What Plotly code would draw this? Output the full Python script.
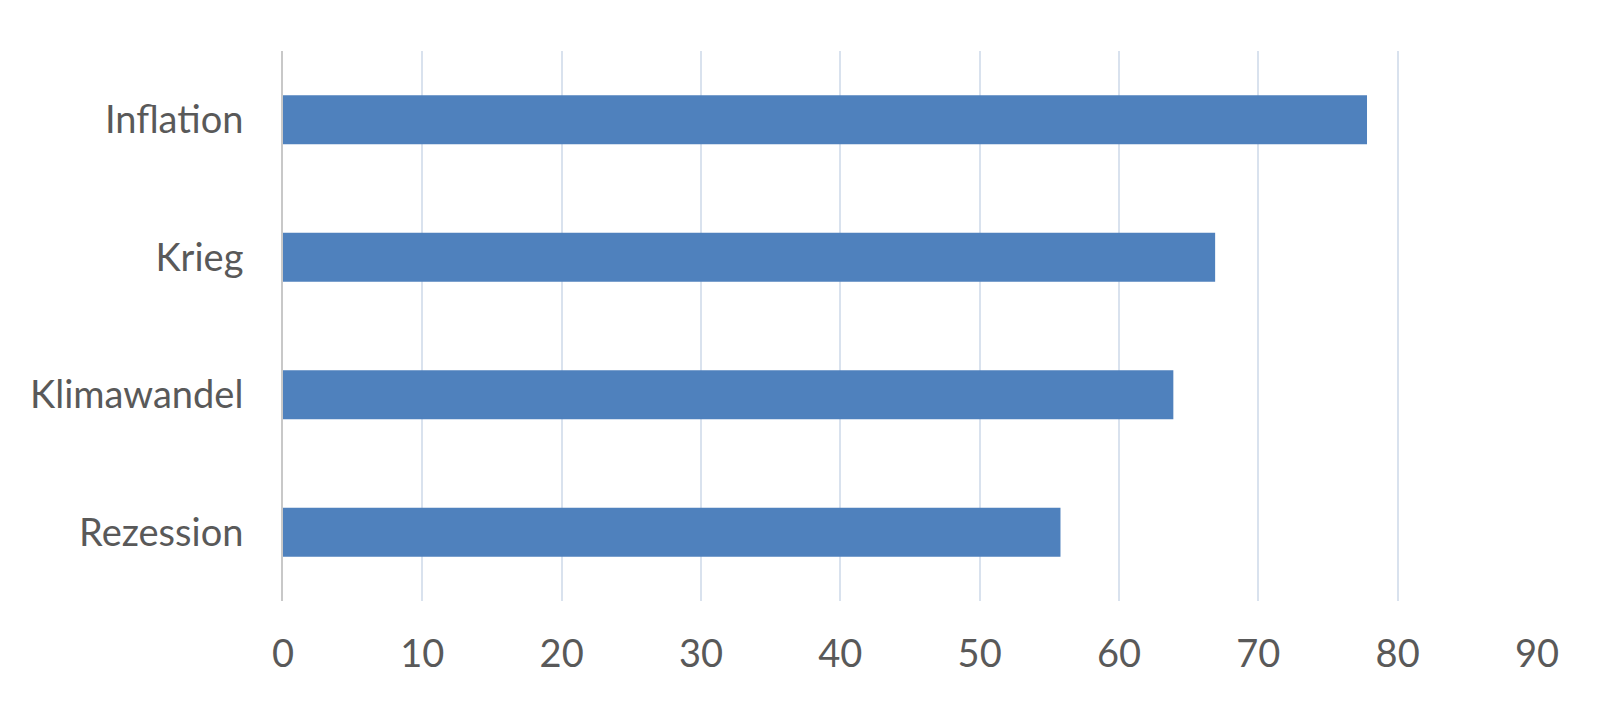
import plotly.graph_objects as go

categories = ["Inflation", "Krieg", "Klimawandel", "Rezession"]
values = [77.8, 66.9, 63.9, 55.8]
x_ticks = [0, 10, 20, 30, 40, 50, 60, 70, 80, 90]

fig = go.Figure(go.Bar(
    x=values, y=categories, orientation="h",
    marker=dict(color="#4F81BD", line=dict(color="#4F81BD", width=0)),
    width=0.355,
))

font_family = "Lato, 'Open Sans', sans-serif"
fig.update_layout(
    width=1609, height=707,
    margin=dict(l=275, r=80, t=43, b=114),
    paper_bgcolor="white", plot_bgcolor="white",
    showlegend=False,
    font=dict(family=font_family, size=38, color="#595959"),
)
fig.update_xaxes(
    range=[0, 90], tickvals=x_ticks, ticktext=[str(v) for v in x_ticks],
    showgrid=True, gridcolor="#D9E2EE", gridwidth=2,
    zeroline=False, showline=False, ticks="",
    ticklabelstandoff=27, automargin=False,
    tickfont=dict(family=font_family, size=38, color="#595959"),
)
fig.update_yaxes(
    categoryorder="array", categoryarray=categories, autorange="reversed",
    showgrid=False, zeroline=False,
    showline=True, linecolor="#C8C8C8", linewidth=2,
    ticks="", ticklabelstandoff=30, automargin=False,
    tickfont=dict(family=font_family, size=38, color="#595959"),
)

fig.write_html("out.html")
